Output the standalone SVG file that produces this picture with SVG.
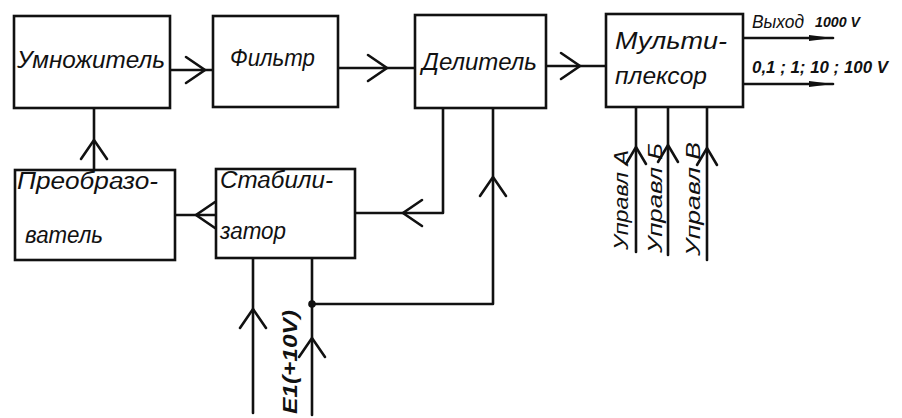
<svg xmlns="http://www.w3.org/2000/svg" width="902" height="418" viewBox="0 0 902 418">
<style>
.box{fill:#fff;stroke:#111;stroke-width:2.6}
.ln{fill:none;stroke:#111;stroke-width:2.6;stroke-linecap:round;stroke-linejoin:round}
.ah{fill:none;stroke:#111;stroke-width:2.6;stroke-linecap:round;stroke-linejoin:miter}
.t{font-family:"Liberation Sans","DejaVu Sans",sans-serif;font-style:italic;font-size:23px;fill:#111}
.s19{font-size:19px}
.s21{font-size:21px}
.s14{font-size:14px;font-weight:bold}
.s16{font-size:16px;font-weight:bold}
.s18b{font-size:20px;font-weight:bold}
</style>
<defs>
<path id="v" d="M-19,-13 L0,0 L-19,13" class="ah"/>
<path id="vs" d="M-17,-10 L0,0 L-17,10" class="ah"/>
<path id="fa" d="M-24,-3 L0,0 L-24,3 Z" fill="#111"/>
</defs>
<rect width="902" height="418" fill="#fff"/>

<g id="connectors">
<path class="ln" d="M170,70 H213"/><use href="#v" transform="translate(205,70)"/>
<path class="ln" d="M338,68 H415"/><use href="#v" transform="translate(387,68)"/>
<path class="ln" d="M546,66 H606"/><use href="#v" transform="translate(580,66)"/>
<path class="ln" d="M743,38 H833"/><use href="#fa" transform="translate(833,38)"/>
<path class="ln" d="M743,84 H833"/><use href="#fa" transform="translate(833,84)"/>
<path class="ln" d="M94,108 V170"/><use href="#v" transform="translate(94,140) rotate(-90)"/>
<path class="ln" d="M216,215 H175"/><use href="#v" transform="translate(196,215) rotate(180)"/>
<path class="ln" d="M443,108 V213 H355"/><use href="#v" transform="translate(403,213) rotate(180)"/>
<path class="ln" d="M493,108 V304 H312"/><use href="#v" transform="translate(493,177) rotate(-90)"/>
<path class="ln" d="M253,258 V413"/><use href="#v" transform="translate(253,309) rotate(-90)"/>
<path class="ln" d="M312,258 V415"/><use href="#v" transform="translate(312,338) rotate(-90)"/>
<circle cx="312" cy="304" r="3.8" fill="#111"/>
<path class="ln" d="M636,107 V252"/><use href="#vs" transform="translate(636,147) rotate(-90)"/>
<path class="ln" d="M668,107 V255"/><use href="#vs" transform="translate(668,145) rotate(-90)"/>
<path class="ln" d="M707,107 V260"/><use href="#vs" transform="translate(707,148) rotate(-90)"/>
</g>

<g id="n-umnozhitel">
<rect class="box" x="14" y="16" width="156" height="92"/>
<text class="t" x="17" y="68" textLength="148" lengthAdjust="spacingAndGlyphs">Умножитель</text>
</g>
<g id="n-filtr">
<rect class="box" x="213" y="16" width="125" height="91"/>
<text class="t" x="230" y="66" textLength="85" lengthAdjust="spacingAndGlyphs">Фильтр</text>
</g>
<g id="n-delitel">
<rect class="box" x="415" y="15" width="131" height="93"/>
<text class="t" x="422" y="70" textLength="115" lengthAdjust="spacingAndGlyphs">Делитель</text>
</g>
<g id="n-multiplexor">
<rect class="box" x="606" y="14" width="137" height="93"/>
<text class="t" x="615" y="49" textLength="112" lengthAdjust="spacingAndGlyphs">Мульти-</text>
<text class="t" x="615" y="84" textLength="92" lengthAdjust="spacingAndGlyphs">плексор</text>
</g>
<g id="n-preobrazovatel">
<rect class="box" x="15" y="170" width="160" height="90"/>
<text class="t" x="17" y="189" textLength="141" lengthAdjust="spacingAndGlyphs">Преобразо-</text>
<text class="t" x="25" y="243" textLength="78" lengthAdjust="spacingAndGlyphs">ватель</text>
</g>
<g id="n-stabilizator">
<rect class="box" x="216" y="169" width="139" height="89"/>
<text class="t" x="220" y="188" textLength="113" lengthAdjust="spacingAndGlyphs">Стабили-</text>
<text class="t" x="220" y="239" textLength="66" lengthAdjust="spacingAndGlyphs">затор</text>
</g>

<g id="labels">
<text class="t s19" x="752" y="28" textLength="52" lengthAdjust="spacingAndGlyphs">Выход</text>
<text class="t s14" x="815" y="27" textLength="45" lengthAdjust="spacingAndGlyphs">1000 V</text>
<text class="t s16" x="752" y="73" textLength="136" lengthAdjust="spacingAndGlyphs">0,1 ; 1; 10 ; 100 V</text>
<text class="t s21" transform="translate(628,250) rotate(-90)" textLength="100" lengthAdjust="spacingAndGlyphs">Управл А</text>
<text class="t s21" transform="translate(662,253) rotate(-90)" textLength="110" lengthAdjust="spacingAndGlyphs">Управл Б</text>
<text class="t s21" transform="translate(700,256) rotate(-90)" textLength="114" lengthAdjust="spacingAndGlyphs">Управл В</text>
<text class="t s18b" transform="translate(297,414) rotate(-90)" textLength="104" lengthAdjust="spacingAndGlyphs">Е1(+10V)</text>
</g>
</svg>
